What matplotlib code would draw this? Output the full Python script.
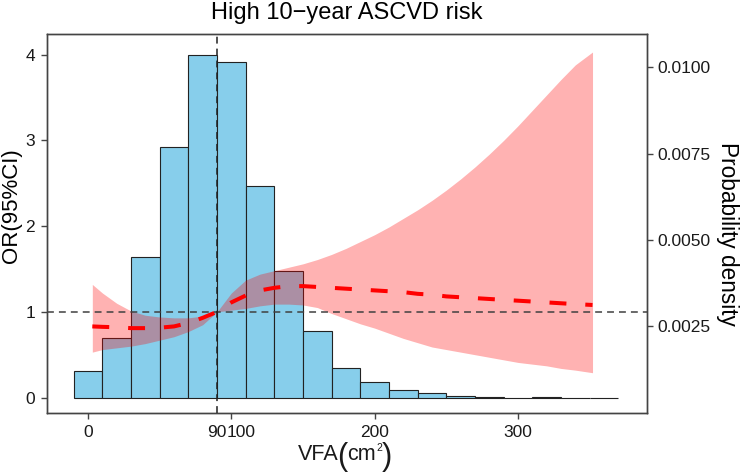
import numpy as np
import matplotlib
matplotlib.use("Agg")
import matplotlib.pyplot as plt
from matplotlib.ticker import FixedLocator, FormatStrFormatter
from matplotlib.transforms import ScaledTranslation

plt.rcParams['font.family'] = ['Liberation Sans', 'DejaVu Sans']

# ---- data ----
bin_left = [-10, 10, 30, 50, 70, 90, 110, 130, 150, 170, 190, 210, 230, 250,
            270, 290, 310, 330, 350]
bin_height = [0.31, 0.70, 1.64, 2.92, 4.00, 3.91, 2.47, 1.48, 0.78, 0.34,
              0.18, 0.09, 0.05, 0.02, 0.01, 0.0, 0.01, 0.0, 0.0]

vfa = [3, 10, 20, 30, 40, 50, 60, 70, 80, 90, 100, 110, 120, 130, 140, 150,
       160, 170, 180, 190, 200, 210, 220, 230, 240, 250, 260, 270, 280, 290,
       300, 310, 320, 330, 340, 352]
or_fit = [0.83, 0.825, 0.82, 0.81, 0.81, 0.815, 0.83, 0.87, 0.93, 1.00, 1.11,
          1.19, 1.25, 1.28, 1.30, 1.30, 1.29, 1.28, 1.27, 1.26, 1.25, 1.24,
          1.23, 1.21, 1.20, 1.18, 1.17, 1.16, 1.15, 1.14, 1.13, 1.12, 1.11,
          1.10, 1.09, 1.08]
or_upper = [1.32, 1.22, 1.10, 1.01, 0.96, 0.94, 0.93, 0.93, 0.95, 1.00, 1.22,
            1.37, 1.44, 1.48, 1.52, 1.56, 1.61, 1.67, 1.74, 1.82, 1.90, 1.99,
            2.09, 2.19, 2.30, 2.42, 2.55, 2.69, 2.84, 3.00, 3.17, 3.35, 3.53,
            3.71, 3.88, 4.03]
or_lower = [0.53, 0.56, 0.58, 0.60, 0.63, 0.67, 0.71, 0.77, 0.85, 1.00, 1.02,
            1.04, 1.07, 1.09, 1.09, 1.08, 1.05, 0.98, 0.92, 0.86, 0.81, 0.75,
            0.69, 0.64, 0.59, 0.56, 0.53, 0.50, 0.47, 0.44, 0.41, 0.39, 0.37,
            0.34, 0.32, 0.29]

ref_x = 90
x_ticks = [0, 100, 200, 300]
y_ticks = [0, 1, 2, 3, 4]
dens_ticks = [0.0025, 0.0050, 0.0075, 0.0100]
# right axis relation: density = d0 + k * OR
d0, k = 0.00044, 0.002481

DPI = 100
fig = plt.figure(figsize=(7.44, 4.73), dpi=DPI)
ax = fig.add_axes([0.0632, 0.1268, 0.8064, 0.8013])

ax.bar(bin_left, bin_height, width=20, align='edge', color='#87CEEB',
       edgecolor='#222222', linewidth=0.8, zorder=1)
ax.fill_between(vfa, or_lower, or_upper, color='red', alpha=0.3,
                linewidth=0, zorder=2)
ax.plot(vfa, or_fit, color='red', linewidth=2.9, dashes=(4.2, 4.7),
        zorder=3)
ax.axhline(1, color='#404040', linewidth=1.1, dashes=(4.5, 3.3), zorder=4)
ax.axvline(ref_x, color='#202020', linewidth=1.1, dashes=(4.5, 3.3), zorder=4)

ax.set_xlim(-28.6, 390)
ax.set_ylim(-0.18, 4.24)
ax.xaxis.set_major_locator(FixedLocator(x_ticks))
ax.set_xticklabels([str(v) for v in x_ticks])
ax.yaxis.set_major_locator(FixedLocator(y_ticks))

for s in ax.spines.values():
    s.set_color('#444444')
    s.set_linewidth(1.0)
ax.tick_params(direction='out', length=4.5, width=1.0, color='#444444',
               labelsize=12.5, labelcolor='#1a1a1a', pad=4)

fig.canvas.draw()
for lab in ax.get_xticklabels():
    if lab.get_text() == '100':
        lab.set_horizontalalignment('left')
        lab.set_transform(lab.get_transform() +
                          ScaledTranslation(-5 / DPI, 0, fig.dpi_scale_trans))
t90 = ax.text(ref_x, 0, str(ref_x), ha='center', va='top', fontsize=12.5,
              color='#1a1a1a', zorder=5)
t90.set_transform(ax.get_xaxis_transform() +
                  ScaledTranslation(0, -(4.5 + 4) / 72, fig.dpi_scale_trans))

ax2 = ax.twinx()
lo, hi = ax.get_ylim()
ax2.set_ylim(d0 + k * lo, d0 + k * hi)
ax2.yaxis.set_major_locator(FixedLocator(dens_ticks))
ax2.yaxis.set_major_formatter(FormatStrFormatter('%.4f'))
for s in ax2.spines.values():
    s.set_color('#444444')
    s.set_linewidth(1.0)
ax2.tick_params(direction='out', length=4.5, width=1.0, color='#444444',
                labelsize=12.5, labelcolor='#1a1a1a', pad=3)

ax.set_title('High 10\u2212year ASCVD risk', fontsize=17, pad=11)
ax.set_ylabel('OR(95%CI)', fontsize=16, va='center', ha='center')
ax.yaxis.set_label_coords(-0.0595, 0.546)
ax2.set_ylabel('Probability density', fontsize=16.3, rotation=270,
               va='center', ha='center')
ax2.yaxis.set_label_coords(1.134, 0.472)

# x-axis label "VFA(cm²)" with tall, plotmath-style parentheses
renderer = fig.canvas.get_renderer()
base_y = 473 - 460  # baseline in display pixels
pieces = [('VFA', 15.5, 0, -1.5), ('(', 22, -5, -0.5), ('cm', 15.5, 0, 0.5),
          ('2', 7.5, 9, 0.0), (')', 22, -5, 0)]
texts = []
x = 0
for s, fs, dy, gap in pieces:
    t = fig.text(x, base_y + dy, s, fontsize=fs, ha='left', va='baseline',
                 transform=None, color='#1a1a1a')
    w = t.get_window_extent(renderer).width
    texts.append((t, x))
    x += w + gap
total = x
x0 = 345 - total / 2
for t, xx in texts:
    t.set_x(x0 + xx)

fig.savefig('out.png', dpi=DPI)
